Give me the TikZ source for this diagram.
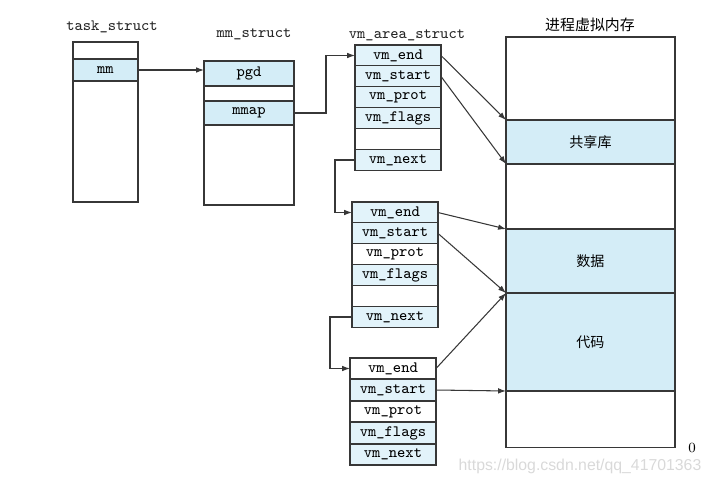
\documentclass[tikz,border=0pt]{standalone}
\usepackage{fontspec}
\newfontfamily\cjk{Noto Sans CJK SC}
\newfontfamily\wmfont{Liberation Sans}
\usetikzlibrary{positioning,arrows.meta}
\definecolor{fieldblue}{RGB}{212,237,247}
\definecolor{paleblue}{RGB}{226,243,250}
\definecolor{inkgray}{RGB}{55,55,55}

\begin{document}
\begin{tikzpicture}[x=0.02cm, y=-0.02cm,
  fld/.style={rectangle, draw=inkgray, fill=#1, line width=0.6pt, inner sep=0pt, outer sep=0pt,
              anchor=north west, minimum width=1.72cm, minimum height=0.42cm,
              font=\ttfamily\fontsize{9}{10}\selectfont},
  fld/.default=white,
  region/.style={rectangle, draw=inkgray, fill=#1, line width=0.6pt, inner sep=0pt, outer sep=0pt,
                 anchor=north west, minimum width=3.38cm, font=\cjk\fontsize{8}{9}\selectfont},
  region/.default=white,
  lbl/.style={font=\ttfamily\fontsize{9}{10}\selectfont, text=black!85},
  ar/.style={-{Latex[length=4.5pt,width=3.2pt]}, line width=0.6pt, draw=inkgray},
]
\useasboundingbox (0,0) rectangle (709,485);

% task_struct
\node[lbl] (tslbl) at (112,27) {task\_struct};
\node[fld, minimum width=1.3cm, minimum height=0.34cm] (ts0) at (73,42) {};
\node[fld=fieldblue, minimum width=1.3cm, minimum height=0.44cm] (mm) at (73,59) {mm};
\node[fld, minimum width=1.3cm, minimum height=2.42cm] (ts1) at (73,81) {};

% mm_struct
\node[lbl] (mslbl) at (254,34) {mm\_struct};
\node[fld=fieldblue, minimum width=1.8cm, minimum height=0.5cm] (pgd) at (204,61) {pgd};
\node[fld, minimum width=1.8cm, minimum height=0.3cm] (ms0) at (204,86) {};
\node[fld=fieldblue, minimum width=1.8cm, minimum height=0.48cm] (mmap) at (204,101) {mmap};
\node[fld, minimum width=1.8cm, minimum height=1.6cm] (ms1) at (204,125) {};

% vm_area_struct chain
\node[lbl] (valbl) at (407,35) {vm\_area\_struct};
\foreach \f/\n/\c [count=\i from 0] in {vm\_end/end/paleblue, vm\_start/start/paleblue,
    vm\_prot/prot/paleblue, vm\_flags/flags/paleblue, /gap/white, vm\_next/next/paleblue}
  \node[fld=\c] (v1\n) at (355,45+20.9*\i) {\f};
\foreach \f/\n/\c [count=\i from 0] in {vm\_end/end/paleblue, vm\_start/start/paleblue,
    vm\_prot/prot/white, vm\_flags/flags/paleblue, /gap/white, vm\_next/next/paleblue}
  \node[fld=\c] (v2\n) at (352,202+20.9*\i) {\f};
\foreach \f/\n/\c [count=\i from 0] in {vm\_end/end/white, vm\_start/start/paleblue,
    vm\_prot/prot/white, vm\_flags/flags/paleblue, vm\_next/next/paleblue}
  \node[fld=\c] (v3\n) at (350,358+21.5*\i) {\f};

% process virtual memory
\node[font=\cjk\fontsize{8.5}{10}\selectfont] (vmlbl) at (590,25) {进程虚拟内存};
\node[region, minimum height=8.22cm] (vmem) at (506,37) {};
\node[region=fieldblue, minimum height=0.88cm] (shlib) at (506,120) {共享库};
\node[region=fieldblue, minimum height=1.28cm] (data) at (506,229) {数据};
\node[region=fieldblue, minimum height=1.96cm] (code) at (506,293) {代码};
\node[font=\fontsize{8}{9}\selectfont] (zero) at (692,448) {0};

\draw[ar] (mm.east) -- (pgd.west|-mm.east);
\draw[ar] (mmap.east) -- ++(32,0) |- (v1end.west);
\draw[ar] (v1next.west) -- ++(-20,0) |- (v2end.west);
\draw[ar] (v2next.west) -- ++(-22,0) |- (v3end.west);

\draw[ar] (v1end.east) -- (shlib.north west);
\draw[ar] (v1start.east) -- (shlib.south west);
\draw[ar] (v2end.east) -- (data.north west);
\draw[ar] (v2start.east) -- (data.south west);
\draw[ar] (v3end.east) -- (code.north west);
\draw[ar] (v3start.east) -- (code.south west);

\node[font=\wmfont\fontsize{9}{10}\selectfont, text=gray!30] (wm) at (580,466) {https://blog.csdn.net/qq\_41701363};

\end{tikzpicture}
\end{document}
